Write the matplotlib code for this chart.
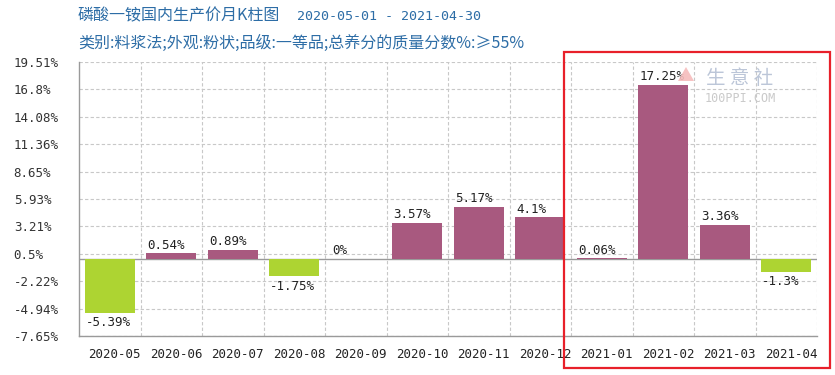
import matplotlib
matplotlib.use("Agg")
import matplotlib.pyplot as plt
import matplotlib.transforms as mtransforms
from matplotlib.patches import Rectangle, Polygon

months = ["2020-05", "2020-06", "2020-07", "2020-08", "2020-09", "2020-10",
          "2020-11", "2020-12", "2021-01", "2021-02", "2021-03", "2021-04"]
changes = [-5.39, 0.54, 0.89, -1.75, 0.0, 3.57, 5.17, 4.1, 0.06, 17.25, 3.36, -1.3]
y_ticks = [19.51, 16.8, 14.08, 11.36, 8.65, 5.93, 3.21, 0.5, -2.22, -4.94, -7.65]

title = "磷酸一铵国内生产价月K柱图"
date_range = "2020-05-01 - 2021-04-30"
subtitle = "类别:料浆法;外观:粉状;品级:一等品;总养分的质量分数%:≥55%"

PURPLE = "#A8597F"
GREEN = "#ADD432"
BLUE = "#2D6DA6"
MONO = ["DejaVu Sans Mono"]
CJK = ["Noto Sans CJK SC", "DejaVu Sans"]

fig = plt.figure(figsize=(8.35, 3.75), dpi=100)
ax = fig.add_axes([79 / 835, 1 - 336 / 375, 738 / 835, 274 / 375])

x = list(range(len(months)))
colors = [PURPLE if v >= 0 else GREEN for v in changes]
bars = ax.bar(x, changes, width=0.82, color=colors, zorder=3)

for b, v in zip(bars, changes):
    label = f"{v:g}%"
    left = b.get_x() + 0.02
    if v >= 0:
        ax.text(left, v + 0.15, label, ha="left", va="bottom", fontsize=9,
                family=MONO, color="#222222", zorder=4)
    else:
        ax.text(left, v - 0.3, label, ha="left", va="top", fontsize=9,
                family=MONO, color="#222222", zorder=4)

ax.set_xlim(-0.5, len(months) - 0.5)
ax.set_ylim(y_ticks[-1], y_ticks[0])

ax.set_yticks(y_ticks)
ax.set_yticklabels([f"{t:g}%" for t in y_ticks], family=MONO, fontsize=9, color="#333333")
ax.tick_params(axis="y", length=0, pad=47)
for lab in ax.get_yticklabels():
    lab.set_horizontalalignment("left")

ax.set_xticks(x)
ax.set_xticklabels(months, family=MONO, fontsize=9, color="#222222")
ax.tick_params(axis="x", length=0, pad=9)
shift = mtransforms.ScaledTranslation(5 / 100, 0, fig.dpi_scale_trans)
for lab in ax.get_xticklabels():
    lab.set_transform(lab.get_transform() + shift)

# dashed grid: horizontal at ticks, vertical at category boundaries
for t in y_ticks:
    ax.axhline(t, color="#C8C8C8", linestyle=(0, (3, 2)), linewidth=0.8, zorder=1)
for i in range(1, len(months) + 1):
    ax.axvline(i - 0.5, color="#C8C8C8", linestyle=(0, (3, 2)), linewidth=0.8, zorder=1)
ax.axhline(0, color="#9A9A9A", linewidth=1.0, zorder=2)

for side in ["top", "right"]:
    ax.spines[side].set_visible(False)
for side in ["left", "bottom"]:
    ax.spines[side].set_color("#9A9A9A")
    ax.spines[side].set_linewidth(1.0)

fig.text(78 / 835, 1 - 16 / 375, title, family=CJK, fontsize=11.5, color=BLUE, va="center")
fig.text(297 / 835, 1 - 16 / 375, date_range, family=MONO, fontsize=9.6, color=BLUE, va="center")
fig.text(78 / 835, 1 - 43 / 375, subtitle, family=CJK, fontsize=11.5, color=BLUE, va="center")

# watermark
fig.patches.append(Polygon([(678 / 835, 1 - 81 / 375), (686 / 835, 1 - 67 / 375),
                            (694 / 835, 1 - 81 / 375)], closed=True,
                           transform=fig.transFigure, facecolor="#F6BCBC",
                           edgecolor="none", alpha=0.9))
fig.text(706 / 835, 1 - 78 / 375, "生 意 社", family=CJK, fontsize=14, color="#BCC6D8",
         va="center")
fig.text(705 / 835, 1 - 98 / 375, "100PPI.COM", family=MONO, fontsize=8.5, color="#CACACA",
         va="center")

# red highlight box
fig.patches.append(Rectangle((564 / 835, 1 - 368 / 375), 266 / 835, 316 / 375,
                             transform=fig.transFigure, fill=False,
                             edgecolor="#E8202A", linewidth=1.6))

fig.savefig("out.png", dpi=100, facecolor="white")
